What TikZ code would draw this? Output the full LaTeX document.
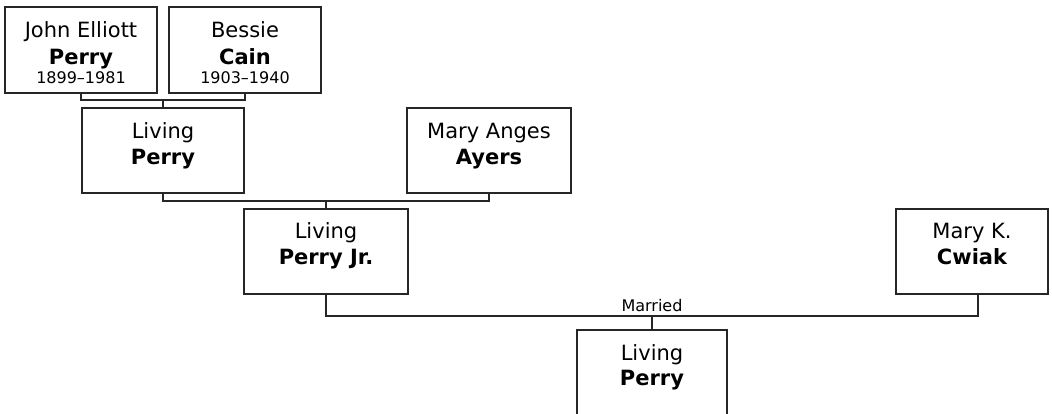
\documentclass[tikz,border=0pt]{standalone}
\usepackage{fontspec}
\setmainfont{DejaVu Sans}
\begin{document}
\begin{tikzpicture}[x=1pt,y=-1pt,
  box/.style={draw=black!85, line width=1.3pt, rectangle, inner sep=0pt, outer sep=0pt, anchor=north west},
  nm/.style={anchor=base, inner sep=0pt, text=black, font=\fontsize{21}{25}\selectfont},
  sn/.style={anchor=base, inner sep=0pt, font=\fontsize{21}{25}\selectfont\bfseries},
  dt/.style={anchor=base, inner sep=0pt, text=black, font=\fontsize{16}{19}\selectfont},
  ln/.style={draw=black!85, line width=1.3pt}]
\useasboundingbox (0,0) rectangle (1052,413);
\clip (0,0) rectangle (1052,413);
% boxes
\node[box, minimum width=152pt, minimum height=86pt] (jep) at (5,7) {};
\node[box, minimum width=152pt, minimum height=86pt] (bc) at (169,7) {};
\node[box, minimum width=162pt, minimum height=85pt] (lp1) at (82,108) {};
\node[box, minimum width=164pt, minimum height=85pt] (maa) at (407,108) {};
\node[box, minimum width=164pt, minimum height=85pt] (lpj) at (244,209) {};
\node[box, minimum width=152pt, minimum height=85pt] (mkc) at (896,209) {};
\node[box, minimum width=150pt, minimum height=110pt] (lp2) at (577,330) {};
% texts
\node[nm] (jep1) at ([yshift=-30pt]jep.north) {John Elliott};
\node[sn] (jep2) at ([yshift=-57pt]jep.north) {Perry};
\node[dt] (jep3) at ([yshift=-76pt]jep.north) {1899–1981};
\node[nm] (bc1) at ([yshift=-30pt]bc.north) {Bessie};
\node[sn] (bc2) at ([yshift=-57pt]bc.north) {Cain};
\node[dt] (bc3) at ([yshift=-76pt]bc.north) {1903–1940};
\node[nm] (lp11) at ([yshift=-30pt]lp1.north) {Living};
\node[sn] (lp12) at ([yshift=-56pt]lp1.north) {Perry};
\node[nm] (maa1) at ([yshift=-30pt]maa.north) {Mary Anges};
\node[sn] (maa2) at ([yshift=-56pt]maa.north) {Ayers};
\node[nm] (lpj1) at ([yshift=-29pt]lpj.north) {Living};
\node[sn] (lpj2) at ([yshift=-55pt]lpj.north) {Perry Jr.};
\node[nm] (mkc1) at ([yshift=-29pt]mkc.north) {Mary K.};
\node[sn] (mkc2) at ([yshift=-55pt]mkc.north) {Cwiak};
\node[nm] (lp21) at ([yshift=-30pt]lp2.north) {Living};
\node[sn] (lp22) at ([yshift=-55pt]lp2.north) {Perry};
% connectors
\coordinate (c1) at (163,100);
\draw[ln] (jep.south) |- (c1) -| (bc.south);
\draw[ln] (c1) -- (c1 |- lp1.north);
\coordinate (c2) at (326,201);
\draw[ln] (lp1.south) |- (c2) -| (maa.south);
\draw[ln] (c2) -- (c2 |- lpj.north);
\coordinate (c3) at (652,316);
\coordinate (mkb) at ([xshift=6pt]mkc.south);
\draw[ln] (lpj.south) |- (c3) -| (mkb);
\draw[ln] (c3) -- (c3 |- lp2.north);
\node[dt] (mar) at (652,311) {Married};
\end{tikzpicture}
\end{document}
